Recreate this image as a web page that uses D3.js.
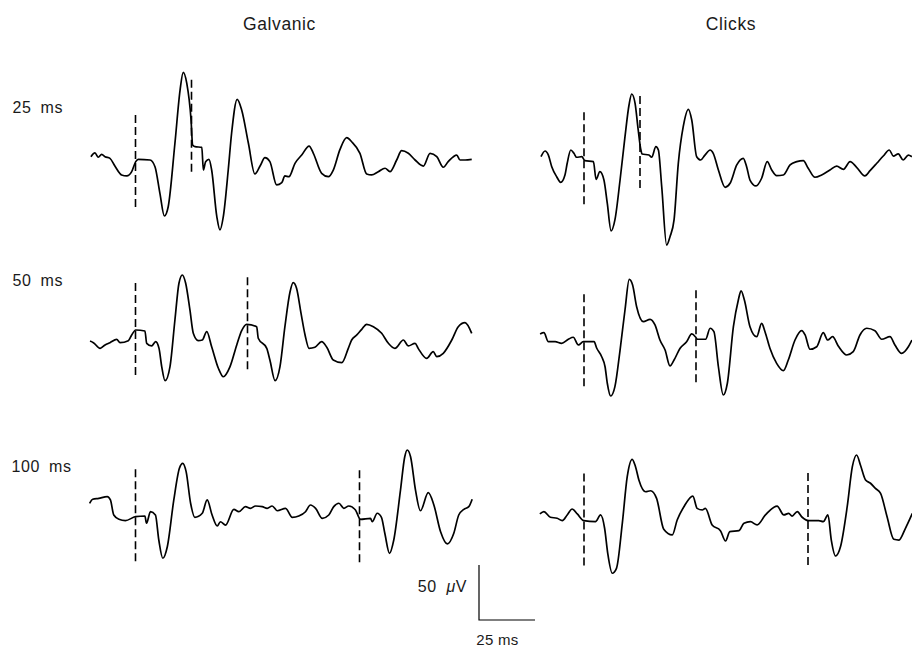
<!DOCTYPE html>
<html>
<head>
<meta charset="utf-8">
<script src="https://cdn.jsdelivr.net/npm/d3@7"></script>
<style>
  body { margin: 0; background: #fff; }
  svg { display: block; }
  text { font-family: "Liberation Sans", Arial, Helvetica, sans-serif; fill: #1a1a1a; }
</style>
</head>
<body>
<svg id="chart" width="912" height="647"></svg>
<script>
// column titles, row labels, second-stimulus delay (ms) for each row
var columns = ["Galvanic", "Clicks"];
var rowLabels = ["25 ms", "50 ms", "100 ms"];
var stimDelays = [25, 50, 100];

// traces: [time from first stimulus (ms), amplitude (uV)]
var galv25 = [[-19.9,3],[-18.1,6.4],[-16.6,2.5],[-15.1,5.2],[-13.6,3],[-11.4,1.5],[-9.2,-5.5],[-6.2,-13.6],[-3.9,-14.5],[-1.7,-10.6],[0.1,-1.5],[1.2,0.6],[6.5,0],[8.7,-6.1],[10.9,-30.3],[12.9,-50.9],[14.6,-42.5],[17.6,15.2],[19.9,63.6],[21.3,79.7],[22.9,69.7],[24.8,36.4],[25.5,13.6],[26.6,12.1],[29.6,11.5],[30.3,-9.1],[31.3,-1.5],[32.8,0.6],[34,-9.1],[36.3,-51.5],[37.7,-63.6],[39.2,-51.5],[41.4,-9.1],[42.9,24.3],[45.4,55.2],[47.4,45.5],[50.4,15.2],[53.3,-12.7],[55.6,-5.5],[57.8,2.1],[60,-1.5],[63,-22.7],[65.3,-20.6],[66.7,-14.5],[68.5,-15.2],[71.2,-3],[74.2,4.5],[77.5,12.7],[79.4,6.1],[83.1,-12.1],[86.1,-15.2],[88.3,-9.1],[91.3,9.7],[94.3,20.3],[96.5,16.6],[100.2,6.1],[103.2,-12.7],[105.4,-13.6],[108.4,-10.6],[111.4,-7.5],[113.6,-10.6],[116.6,0],[118.8,8.5],[121.8,6.1],[124.8,0],[128.5,-5.5],[131.5,6.1],[134.5,3],[137.4,-6.6],[139.6,-1.5],[143.4,4.5],[144.9,0],[147.1,0],[150.1,0.6]];

var galv50 = [[-20.3,-10],[-18.8,-11.5],[-15.8,-16.7],[-13.6,-13.6],[-11.4,-11.5],[-8.4,-8.5],[-6.9,-11.5],[-3.2,-9.7],[-1.7,-4.5],[0.1,0],[4.2,-0.9],[5,-12.1],[7.2,-14.5],[9,-10.6],[10.5,-16.7],[11.7,-33.3],[13.2,-46.1],[15.4,-33.3],[17.6,9.1],[19.4,42.5],[20.9,50],[22.4,42.5],[24.3,18.2],[25.8,-3],[28,-9.7],[29.8,-9.1],[31.8,-1.5],[34,-15.2],[37,-34.8],[39.2,-42.5],[42.2,-33.3],[45.2,-13.6],[47.4,-0.6],[49.6,5.2],[54.1,3],[54.8,-7.5],[58.6,-16.7],[60,-27.3],[62.3,-46.1],[64.5,-33.3],[66.7,3],[69,34.8],[70.4,43],[71.9,37.9],[73.9,15.2],[75.7,-4.5],[77.5,-16.7],[80.1,-15.7],[83.1,-10.6],[85.4,-15.7],[88.3,-27.3],[92.1,-29.7],[95,-16.7],[96.5,-9.1],[98.8,-4.5],[101,0.6],[103.2,5.2],[106.2,3],[109.9,-3],[112.9,-12.1],[115.8,-16.7],[119.6,-9.1],[121.8,-14.5],[124.8,-12.1],[126.2,-16.7],[130,-25.8],[132.9,-19.7],[134.5,-24.2],[137.4,-21.2],[141.2,-9.1],[144.1,3],[147.1,6.7],[150.1,-3]];

var galv100 = [[-20.5,12.4],[-19.1,16.1],[-16.4,17],[-12.6,18.5],[-11.2,15.5],[-9.7,1.8],[-7.4,-2.1],[-4.5,-3.3],[0,0.3],[4.2,0.9],[4.9,-5.7],[6.7,4.8],[8.9,1.8],[10.4,-20.9],[12.2,-37.5],[14.2,-27],[17.1,15.5],[19.6,44.3],[21.1,48.8],[22.6,41.2],[24.6,12.5],[26.5,-0.3],[29.8,3.4],[32,15.5],[34.2,1.8],[36.5,-8.2],[37.9,-4.3],[40.2,-7.3],[43.9,7],[46.1,4.8],[49.1,9.4],[51.3,7.9],[53.6,10],[56.6,9.4],[58.8,7.9],[61,10],[63.3,5.7],[67,7.9],[70,-0.3],[72.9,0.9],[75.9,4.8],[78.1,10.9],[80.4,7.9],[83.4,-1.2],[86.3,1.8],[88.5,9.4],[90.8,12.5],[93,7.9],[95.2,10],[98.2,6.4],[100.4,-2.1],[104.9,-1.2],[105.7,-4.3],[107.9,3.4],[109.8,-0.3],[111.3,-14.8],[113.4,-33],[115.3,-20.9],[118.3,24.5],[120.2,54.8],[121.3,60.9],[122.8,54.8],[125,24.5],[127.2,5.7],[130.7,22.1],[133.2,10.9],[136.2,-13.4],[139.2,-24.5],[142.1,-14.8],[144.3,1.8],[146.6,7],[148.8,9.4],[150.3,16.1]];

var click25 = [[-19.2,3],[-17.4,8.2],[-15.9,4.5],[-14.4,-6.1],[-12.2,-15.2],[-10.4,-20.3],[-8.5,-13.6],[-7.5,-3],[-5.9,9.1],[-4.5,6.1],[-3.3,2.5],[-1,3],[0.4,-0.6],[4.2,-1.5],[5.4,-17.6],[7.1,-10.6],[8.9,-18.2],[10.4,-39.4],[12.1,-64.5],[13.8,-54.5],[16.1,-18.2],[18.3,21.2],[20.1,50],[21.3,60],[22.8,51.5],[24.2,27.3],[25.4,9.1],[25.9,5.5],[29,4.5],[30.2,2.5],[32.1,12.1],[33.2,9.1],[34.7,-24.3],[36.9,-77.3],[38.4,-69.7],[40.2,-54.5],[42.1,-3],[44.3,30.3],[46.6,46.1],[48.1,36.4],[50.3,3],[52.1,0],[54,4.5],[56.3,9.1],[57.7,6.1],[60,-9.1],[63,-24.8],[65.2,-21.2],[68.2,-4.5],[71.1,1.5],[72.6,-6.1],[74.1,-18.2],[76.8,-23.6],[79.3,-16.6],[81.8,-1.5],[83.8,-9.1],[86,-14.2],[89,-13.6],[92,-4.5],[95,-1.5],[97.9,-0.6],[100.1,-7.5],[103.1,-15.7],[106.1,-13.6],[109.8,-9.1],[112.8,-5.5],[115.8,-8.5],[118.8,-1.5],[121.7,-6.6],[125.4,-14.5],[127.7,-9.7],[130.7,-3],[133.6,3.6],[136.3,9.1],[138.1,3.6],[140.3,5.5],[142.5,0],[144.8,4.5],[146.4,3]];

var click50 = [[-19.6,7.3],[-17.9,8.5],[-15.9,0.3],[-12.9,0.3],[-10,-1.2],[-7,2.5],[-4.8,4.3],[-2.5,-2.7],[-0.3,0.3],[4.5,0.3],[5.7,-5.7],[7.9,-13.4],[9.4,-22.5],[10.4,-37.5],[11.9,-49.1],[13.8,-40.6],[16.1,-7.3],[18.3,29.1],[20.2,57],[21.7,51.8],[23.5,32.1],[26.5,18.5],[29.5,20.6],[31.7,15.5],[33.9,1.8],[36.2,-7.3],[38.4,-21.8],[40.2,-16.4],[42.9,-5.7],[45.8,0.3],[48.1,7.3],[49.9,4.3],[50.6,2.5],[54.3,2.5],[56.3,12.5],[58,9.4],[60,-22.5],[62.2,-48.2],[64,-37.5],[66.7,13.9],[68.9,38.2],[70.1,46.6],[71.6,38.2],[74.1,13.9],[77.1,4.8],[79.3,17],[80.8,9.4],[83,-5.7],[86,-19.4],[89,-26.1],[91.2,-16.4],[94.2,1.8],[97.2,10.3],[98.7,6.4],[100.9,-6.6],[103.9,-4.3],[106.8,8.5],[108.8,1.8],[111,4.8],[113.5,-3.6],[117.3,-11.8],[120.2,-8.8],[123.2,6.4],[126.2,12.5],[129.9,10.3],[132.9,2.5],[136.6,4.8],[138.8,-2.7],[141.8,-10.3],[144.8,-4.3],[146.4,1.8]];

var click100 = [[-19.7,6.4],[-17.9,8.5],[-15,3.4],[-12,2.5],[-9.7,0.3],[-7.5,5.5],[-5.3,10.9],[-3,6.4],[-0.1,0.3],[5.1,-0.6],[7.4,5.5],[9.2,-6.6],[10.6,-29.4],[12.6,-47.5],[14.5,-43],[17.1,-2.1],[19.3,40.3],[21.5,56.1],[23,49.4],[24.5,37.3],[27.5,26.6],[29.7,27.5],[32.4,20.6],[35.6,-7.5],[39.4,-12.7],[41.6,0.9],[44.6,13],[48.6,22.7],[50.5,11.5],[52.8,10],[54.2,11.5],[57.2,-3.6],[60.9,-8.8],[63.2,-18.2],[65.1,-9.7],[69.2,-8.8],[71.4,-2.1],[74.3,-0.6],[77.3,-3.6],[81,5.5],[86.2,13.6],[89.2,5.5],[91.4,7],[92.9,4.5],[95.2,8.5],[97.4,3.4],[100.4,0.3],[104.8,0.3],[106.8,-0.6],[108.9,5.5],[110.4,-17.3],[112.3,-31.8],[114.5,-23.4],[117.5,13],[119.8,49.4],[121.7,60],[123.4,50.9],[125.7,37.3],[127.9,34.3],[130.1,29.7],[132.4,25.2],[135.3,3.9],[138.3,-16.6],[140.6,-17.3],[143.5,-6.6],[146.6,7]];

var traces = [[galv25, click25], [galv50, click50], [galv100, click100]];

// scale bar size
var barUV = 50, barMS = 25;

var svg = d3.select("#chart");

var pxPerMs = 2.24, pxPerUV = 1.1;
var colOrigin = [135.5, 584];      // x of first stimulus in each column
var rowBase = [[160, 160], [330, 342], [517, 521]];   // y of 0 uV per panel

function xScale(c) {
    return d3.scaleLinear().domain([0, 100]).range([colOrigin[c], colOrigin[c] + 100 * pxPerMs]);
}
function yScale(r, c) {
    return d3.scaleLinear().domain([0, 100]).range([rowBase[r][c], rowBase[r][c] - 100 * pxPerUV]);
}

var bisect = d3.bisector(function(d) { return d[0]; }).left;
function valueAt(data, t) {
    var i = bisect(data, t);
    if (i <= 0) return data[0][1];
    if (i >= data.length) return data[data.length - 1][1];
    var a = data[i - 1], b = data[i];
    return a[1] + (b[1] - a[1]) * (t - a[0]) / (b[0] - a[0]);
}

svg.selectAll(".title")
    .data(columns)
    .enter().append("text")
    .attr("class", "title")
    .attr("x", function(d, i) { return i == 0 ? 279.5 : 731; })
    .attr("y", 29.5)
    .attr("text-anchor", "middle")
    .attr("font-size", 17.5)
    .attr("letter-spacing", 0.6)
    .text(function(d) { return d; });

var rowLabelY = [113.3, 285.7, 471.7];
svg.selectAll(".rowlabel")
    .data(rowLabels)
    .enter().append("text")
    .attr("class", "rowlabel")
    .attr("x", function(d, i) { return i == 2 ? 11.5 : 12.5; })
    .attr("y", function(d, i) { return rowLabelY[i]; })
    .attr("font-size", 16)
    .attr("letter-spacing", 0.6)
    .attr("word-spacing", 4)
    .text(function(d) { return d; });

traces.forEach(function(row, r) {
    row.forEach(function(data, c) {
        var x = xScale(c), y = yScale(r, c);
        var line = d3.line()
            .curve(d3.curveMonotoneX)
            .x(function(d) { return x(d[0]); })
            .y(function(d) { return y(d[1]); });

        svg.append("path")
            .datum(data)
            .attr("d", line)
            .attr("fill", "none")
            .attr("stroke", "#000")
            .attr("stroke-width", 1.7)
            .attr("stroke-linejoin", "round");

        // stimulus markers
        [0, stimDelays[r]].forEach(function(t) {
            var v = valueAt(data, t);
            svg.append("line")
                .attr("x1", x(t)).attr("x2", x(t))
                .attr("y1", y(v + 43)).attr("y2", y(v - 43))
                .attr("stroke", "#000")
                .attr("stroke-width", 1.6)
                .attr("stroke-dasharray", "8,4");
        });
    });
});

// scale bar
var sx = d3.scaleLinear().domain([0, barMS]).range([479, 479 + barMS * pxPerMs]);
var sy = d3.scaleLinear().domain([0, barUV]).range([620, 620 - barUV * pxPerUV]);
svg.append("path")
    .attr("d", "M" + sx(0) + "," + sy(barUV) + "V" + sy(0) + "H" + sx(barMS))
    .attr("fill", "none")
    .attr("stroke", "#000")
    .attr("stroke-width", 1.2);

var uv = svg.append("text")
    .attr("x", 467)
    .attr("y", 591.5)
    .attr("text-anchor", "end")
    .attr("font-size", 16)
    .attr("letter-spacing", 0.5)
    .attr("word-spacing", 5);
uv.append("tspan").text(barUV + " ");
uv.append("tspan").attr("font-style", "italic").text("\u03bc");
uv.append("tspan").text("V");

svg.append("text")
    .attr("x", 497.5)
    .attr("y", 645)
    .attr("text-anchor", "middle")
    .attr("font-size", 15)
    .attr("letter-spacing", 0.3)
    .text(barMS + " ms");
</script>
</body>
</html>
